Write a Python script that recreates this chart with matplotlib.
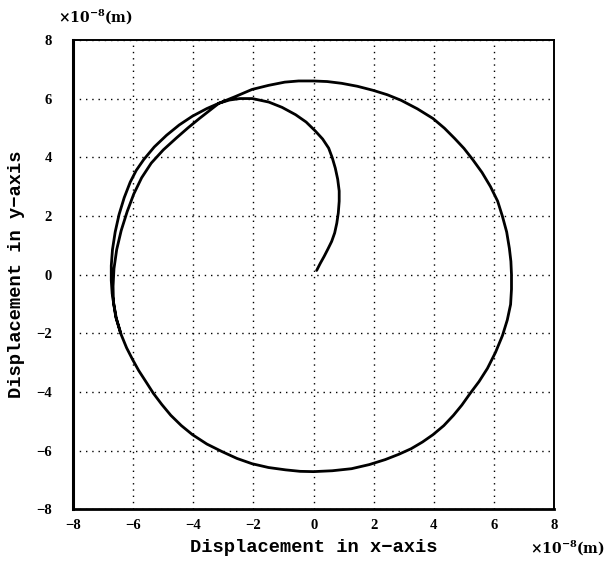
import matplotlib
matplotlib.use("Agg")
import matplotlib.pyplot as plt

# Trajectory of the shaft centre (units of 1e-8 m), traced in order
# inner spiral leaving the origin
spiral_x = [0.10, 0.22, 0.35, 0.48, 0.60, 0.70, 0.77, 0.82, 0.85, 0.85, 0.80, 0.72, 0.62,
            0.50, 0.30, 0.05, -0.25, -0.60, -1.05, -1.49, -2.04, -2.45, -2.80, -3.15]
spiral_y = [0.14, 0.38, 0.62, 0.88, 1.13, 1.42, 1.75, 2.10, 2.50, 2.85, 3.25, 3.63, 3.98,
            4.31, 4.62, 4.90, 5.20, 5.45, 5.70, 5.88, 6.00, 6.00, 5.95, 5.84]

# first orbit (overshoots on the left, then settles)
orbit_x = [-3.55, -4.03, -4.47, -4.89, -5.30, -5.65, -5.90, -6.10, -6.30, -6.47, -6.60,
           -6.69, -6.73, -6.73, -6.70, -6.64, -6.56, -6.40, -6.22, -6.02, -5.82, -5.58,
           -5.33, -5.05, -4.75, -4.40, -4.03, -3.55, -3.04, -2.55, -2.05, -1.50, -0.93,
           -0.45, 0.00, 0.62, 1.26, 1.85, 2.38, 2.83, 3.24, 3.62, 3.97, 4.33, 4.65,
           4.93, 5.20, 5.50, 5.78, 6.05, 6.28, 6.44, 6.55, 6.58, 6.58, 6.56, 6.51,
           6.42, 6.28, 6.12, 5.88, 5.60, 5.29, 5.00, 4.69, 4.35, 3.97, 3.45, 2.91,
           2.45, 1.98, 1.45, 0.93, 0.45, 0.00, -0.50, -0.96, -1.50, -2.05, -2.60, -3.15]
orbit_y = [5.66, 5.40, 5.10, 4.75, 4.35, 3.92, 3.55, 3.15, 2.62, 2.05, 1.45,
           0.85, 0.30, -0.20, -0.65, -1.05, -1.50, -2.05, -2.50, -2.90, -3.27, -3.65,
           -4.05, -4.43, -4.80, -5.15, -5.46, -5.78, -6.04, -6.27, -6.45, -6.58, -6.66,
           -6.71, -6.72, -6.69, -6.62, -6.48, -6.31, -6.13, -5.94, -5.71, -5.46, -5.15, -4.80,
           -4.45, -4.06, -3.65, -3.20, -2.65, -2.08, -1.55, -1.02, -0.50, 0.00, 0.45, 0.89,
           1.45, 1.98, 2.50, 3.00, 3.48, 3.92, 4.30, 4.64, 4.99, 5.32, 5.65, 5.94,
           6.13, 6.28, 6.42, 6.52, 6.58, 6.60, 6.60, 6.56, 6.45, 6.31, 6.07, 5.84]

# second pass down the left side (limit cycle)
tail_x = [-3.80, -4.18, -4.56, -5.00, -5.40, -5.72, -5.98, -6.20, -6.40, -6.55,
          -6.64, -6.67, -6.66, -6.58, -6.42]
tail_y = [5.32, 5.00, 4.66, 4.25, 3.80, 3.30, 2.75, 2.15, 1.50, 0.85,
          0.20, -0.40, -0.92, -1.45, -2.00]

ticks = [-8, -6, -4, -2, 0, 2, 4, 6, 8]
axis_font = "Liberation Mono"
unit_label = r"$\mathbf{\times10^{-8}(m)}$"

plt.rcParams["mathtext.fontset"] = "dejavuserif"

fig = plt.figure(figsize=(6.09, 5.62), dpi=100)
ax = fig.add_axes([0.120, 0.094, 0.790, 0.835])

ax.plot(spiral_x + orbit_x + tail_x, spiral_y + orbit_y + tail_y,
        color="black", lw=2.0, solid_joinstyle="round", solid_capstyle="round")

ax.set_xlim(-8, 8)
ax.set_ylim(-8, 8)
ax.set_xticks(ticks)
ax.set_yticks(ticks)
ax.set_xticklabels([f"{t}".replace("-", "\u2212") for t in ticks])
ax.set_yticklabels([f"{t}".replace("-", "\u2212") for t in ticks])
ax.tick_params(length=0, labelsize=10.5, pad=7)
ax.tick_params(axis="y", pad=15)
for lab in ax.get_xticklabels() + ax.get_yticklabels():
    lab.set_fontfamily("Liberation Serif")
    lab.set_fontweight("bold")

ax.grid(True, color="black", linestyle=(0, (1, 3.5)), linewidth=1.0)
ax.set_axisbelow(True)

for side, w in (("left", 2.2), ("bottom", 2.0), ("top", 1.4), ("right", 1.4)):
    ax.spines[side].set_linewidth(w)
    ax.spines[side].set_color("black")

ax.set_xlabel("Displacement in x\u2212axis", fontfamily=axis_font,
              fontweight="bold", fontsize=13.5, labelpad=5)
ax.set_ylabel("Displacement in y\u2212axis", fontfamily=axis_font,
              fontweight="bold", fontsize=13.5, labelpad=8)

fig.text(0.095, 0.970, unit_label, fontsize=10, ha="left", va="center")
fig.text(0.870, 0.025, unit_label, fontsize=10, ha="left", va="center")

fig.savefig("out.png", dpi=100)
